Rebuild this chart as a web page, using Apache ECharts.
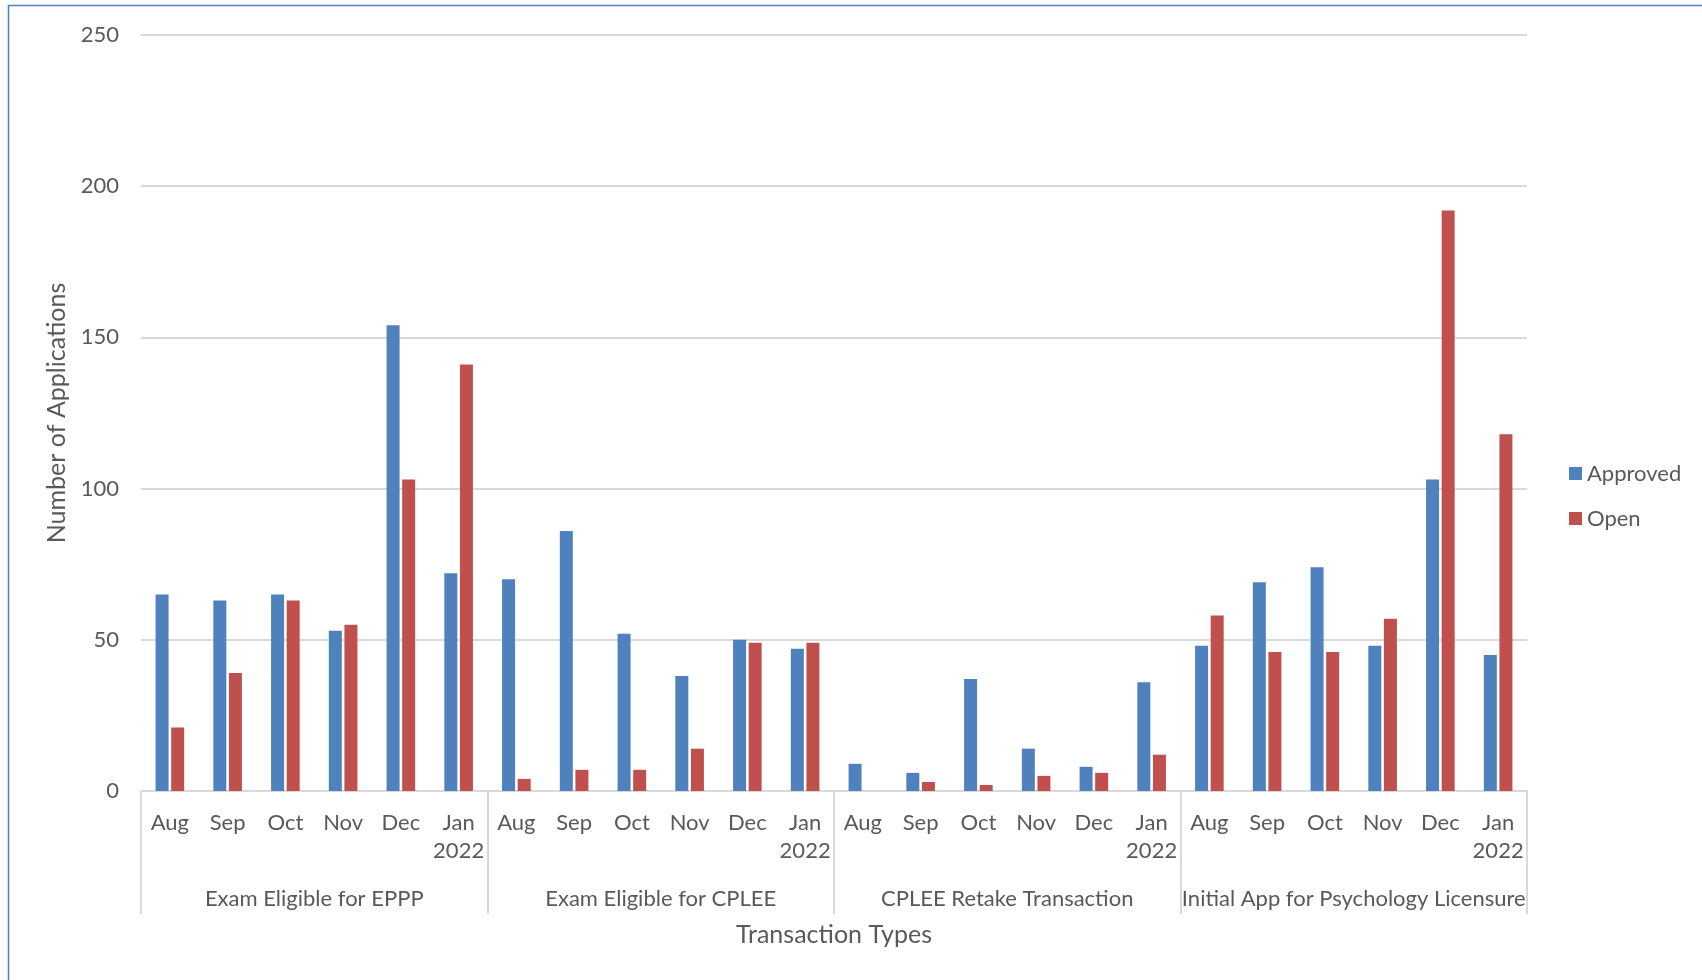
<!DOCTYPE html>
<html><head><meta charset="utf-8">
<script src="https://cdn.jsdelivr.net/npm/echarts@6/dist/echarts.min.js"></script>
<style>html,body{margin:0;padding:0;background:#fff}#c{width:1702px;height:980px}</style>
</head><body><div id="c"></div>
<script>
const groups = ['Exam Eligible for EPPP', 'Exam Eligible for CPLEE', 'CPLEE Retake Transaction', 'Initial App for Psychology Licensure'];
const months = ['Aug', 'Sep', 'Oct', 'Nov', 'Dec', 'Jan\n2022'];
const approved = [65, 63, 65, 53, 154, 72,  70, 86, 52, 38, 50, 47,  9, 6, 37, 14, 8, 36,  48, 69, 74, 48, 103, 45];
const openApps = [21, 39, 63, 55, 103, 141,  4, 7, 7, 14, 49, 49,  0, 3, 2, 5, 6, 12,  58, 46, 46, 57, 192, 118];
const yMin = 0, yMax = 250, yStep = 50;
const seriesNames = ['Approved', 'Open'];

const categories = [];
groups.forEach(function () { months.forEach(function (m) { categories.push(m); }); });

const FONT = 'Lato';
const TXT = '#595959';
const GRIDC = '#d9d9d9';
const gridBox = { left: 141, right: 175, top: 35, bottom: 189 };

const chart = echarts.init(document.getElementById('c'), null, { renderer: 'canvas' });
chart.setOption({
  animation: false,
  backgroundColor: '#ffffff',
  textStyle: { fontFamily: FONT, color: TXT },
  graphic: [{
    type: 'rect', silent: true,
    shape: { x: 8.5, y: 5.5, width: 1800, height: 1100 },
    style: { fill: 'none', stroke: '#4f81bd', lineWidth: 1.5 }
  }],
  grid: [Object.assign({}, gridBox), Object.assign({}, gridBox)],
  legend: {
    orient: 'vertical', left: 1564, top: 456,
    itemWidth: 13, itemHeight: 13, itemGap: 20,
    icon: 'rect',
    textStyle: { fontFamily: FONT, fontSize: 22, color: TXT, lineHeight: 25 },
    data: seriesNames
  },
  xAxis: [{
    type: 'category', gridIndex: 0, data: categories,
    axisLine: { show: true, lineStyle: { color: GRIDC, width: 2 } },
    axisTick: { show: false },
    axisLabel: { interval: 0, margin: 18, fontFamily: FONT, fontSize: 22, color: TXT, lineHeight: 28, align: 'center' }
  }, {
    type: 'category', gridIndex: 1, data: groups, position: 'bottom',
    axisLine: { show: false },
    axisTick: { show: true, interval: 0, length: 123, lineStyle: { color: GRIDC, width: 2 } },
    axisLabel: { interval: 0, margin: 97, fontFamily: FONT, fontSize: 22, color: TXT },
    name: 'Transaction Types', nameLocation: 'middle', nameGap: 131,
    nameTextStyle: { fontFamily: FONT, fontSize: 25, color: TXT }
  }],
  yAxis: [{
    type: 'value', gridIndex: 0, min: yMin, max: yMax, interval: yStep,
    axisLine: { show: false }, axisTick: { show: false },
    splitLine: { lineStyle: { color: GRIDC, width: 2 } },
    axisLabel: { margin: 22, fontFamily: FONT, fontSize: 22, color: TXT },
    name: 'Number of Applications', nameLocation: 'middle', nameRotate: 90, nameGap: 68,
    nameTextStyle: { fontFamily: FONT, fontSize: 25, color: TXT }
  }, {
    type: 'value', gridIndex: 1, min: yMin, max: yMax, show: false
  }],
  series: [{
    name: seriesNames[0], type: 'bar', xAxisIndex: 0, yAxisIndex: 0,
    data: approved, barWidth: 13, barGap: '20%',
    itemStyle: { color: '#4f81bd' }
  }, {
    name: seriesNames[1], type: 'bar', xAxisIndex: 0, yAxisIndex: 0,
    data: openApps, barWidth: 13, barGap: '20%',
    itemStyle: { color: '#c0504d' }
  }]
});
</script>
</body></html>
